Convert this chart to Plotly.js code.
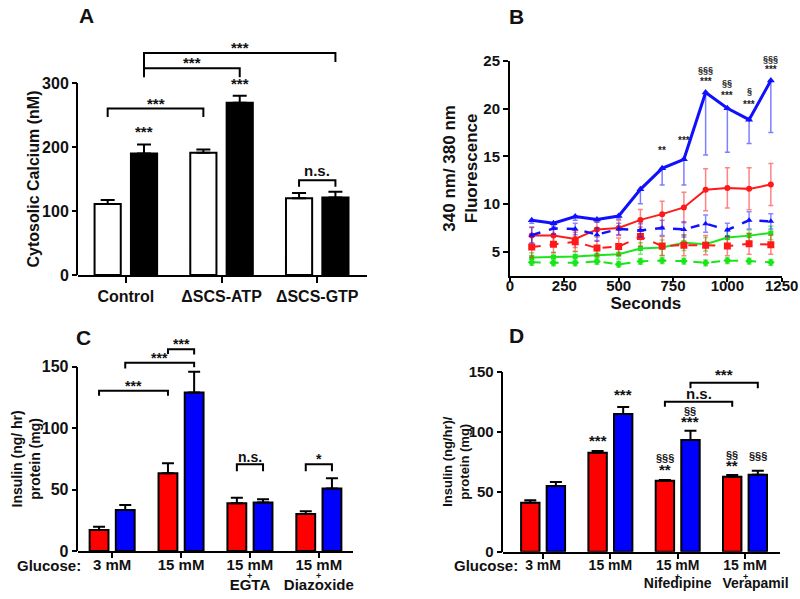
<!DOCTYPE html>
<html><head><meta charset="utf-8">
<script src="https://cdn.plot.ly/plotly-3.0.1.min.js"></script>
<style>html,body{margin:0;padding:0;background:#fff}#chart{width:800px;height:599px}</style>
</head><body><div id="chart"></div>
<script>
// ---------- Panel A ----------
const catsA = ['Control', 'ΔSCS-ATP', 'ΔSCS-GTP'];
const openA = [111, 191, 120];
const openErrA = [6, 5, 8];
const filledA = [190, 269, 121];
const filledErrA = [14, 11, 9];
const barStarsA = [{cat: 0, s: 1, text: '***'}, {cat: 1, s: 1, text: '***'}];
const bracketsA = [
  {c0: 0, s0: 0, c1: 1, s1: 0, top: 260, d0: 247, d1: 247, text: '***'},
  {c0: 0, s0: 1, c1: 1, s1: 1, top: 323, d0: 309, d1: 309, text: '***'},
  {c0: 0, s0: 1, c1: 2, s1: 1, top: 347, d0: 323, d1: 333, text: '***'},
  {c0: 2, s0: 0, c1: 2, s1: 1, top: 148, d0: 138, d1: 138, text: 'n.s.'}
];

// ---------- Panel B ----------
const secondsB = [100, 200, 300, 400, 500, 600, 700, 800, 900, 1000, 1100, 1200];
const blueSolidB = [8.3, 8.0, 8.7, 8.4, 8.75, 11.55, 13.75, 14.7, 21.7, 20.05, 18.85, 22.95];
const blueSolidErrB = [0.3, 0.3, 0.4, 0.3, 0.3, 1.5, 1.75, 2.7, 6.55, 4.6, 2.5, 5.45];
const blueDashB = [6.75, 7.45, 7.4, 6.8, 7.4, 7.25, 7.5, 7.35, 7.95, 7.3, 8.3, 8.2];
const blueDashErrB = [0.8, 0.6, 0.6, 0.7, 0.6, 0.7, 0.8, 0.8, 0.9, 0.7, 0.9, 0.8];
const redSolidB = [6.7, 6.7, 6.35, 7.35, 7.5, 8.35, 8.95, 9.65, 11.5, 11.7, 11.6, 12.05];
const redSolidErrB = [0.9, 0.8, 0.9, 0.8, 0.8, 1.1, 1.35, 1.6, 2.2, 2.1, 2.2, 2.2];
const redDashB = [5.5, 5.8, 6.05, 5.4, 5.55, 6.6, 5.6, 5.7, 5.7, 5.6, 5.85, 5.75];
const redDashErrB = [1.1, 0.9, 1.0, 0.8, 0.9, 1.0, 1.0, 1.1, 1.0, 1.0, 1.1, 1.0];
const greenSolidB = [4.4, 4.45, 4.5, 4.65, 4.75, 5.35, 5.45, 5.95, 5.8, 6.5, 6.7, 6.98];
const greenSolidErrB = [0.5, 0.5, 0.5, 0.5, 0.5, 0.6, 0.8, 0.8, 0.7, 0.7, 0.6, 0.7];
const greenDashB = [3.9, 3.85, 3.85, 4.0, 3.7, 4.0, 4.08, 4.03, 3.85, 4.08, 4.03, 3.9];
const greenDashErrB = [0.3, 0.3, 0.3, 0.3, 0.3, 0.3, 0.3, 0.3, 0.3, 0.3, 0.3, 0.3];
const sigB = [
  {x: 700, text: '**', dy: 10},
  {x: 800, text: '***', dy: 11},
  {x: 900, text: '***', dy: 3}, {x: 900, text: '§§§', dy: 15},
  {x: 1000, text: '***', dy: 5}, {x: 1000, text: '§§', dy: 18},
  {x: 1100, text: '***', dy: 8}, {x: 1100, text: '§', dy: 22},
  {x: 1200, text: '***', dy: 4}, {x: 1200, text: '§§§', dy: 15}
];

// ---------- Panel C ----------
const catsC = ['3 mM', '15 mM', '15 mM<br>EGTA', '15 mM<br>Diazoxide'];
const redC = [17.1, 63.3, 38.8, 30.1];
const redErrC = [2.7, 8.1, 4.6, 2.2];
const blueC = [33.4, 129, 39.6, 51];
const blueErrC = [4.1, 17, 2.5, 8.2];
const plusC = [2, 3];
const bracketsC = [
  {c0: 0, s0: 0, c1: 1, s1: 0, top: 130.5, d0: 126.5, d1: 126.5, text: '***'},
  {c0: 0, s0: 1, c1: 1, s1: 1, top: 153.4, d0: 148.7, d1: 149.6, text: '***'},
  {c0: 1, s0: 0, c1: 1, s1: 1, top: 164.3, d0: 160.4, d1: 160.0, text: '***'},
  {c0: 2, s0: 0, c1: 2, s1: 1, top: 70.6, d0: 65, d1: 65, text: 'n.s.'},
  {c0: 3, s0: 0, c1: 3, s1: 1, top: 70.6, d0: 65, d1: 65, text: '*'}
];

// ---------- Panel D ----------
const catsD = ['3 mM', '15 mM', '15 mM<br>Nifedipine', '15 mM<br>\u2003\u2002Verapamil'];
const redD = [40.8, 82.5, 59.2, 62.5];
const redErrD = [2.0, 1.4, 0.5, 1.4];
const blueD = [54.7, 114.7, 93, 64.2];
const blueErrD = [3.4, 5.9, 7.8, 3.3];
const plusD = [2, 3];
const barStarsD = [
  {cat: 1, s: 0, text: '***', dy: 0},
  {cat: 1, s: 1, text: '***', dy: 2},
  {cat: 2, s: 0, text: '**', dy: 0}, {cat: 2, s: 0, text: '§§§', dy: 14},
  {cat: 2, s: 1, text: '***', dy: -1}, {cat: 2, s: 1, text: '§§', dy: 12},
  {cat: 3, s: 0, text: '**', dy: -1}, {cat: 3, s: 0, text: '§§', dy: 12},
  {cat: 3, s: 1, text: '§§§', dy: 7}
];
const bracketsD = [
  {c0: 2, s0: 0, c1: 3, s1: 0, top: 125, d0: 120.8, d1: 120.8, text: 'n.s.'},
  {c0: 2, s0: 1, c1: 3, s1: 1, top: 140.8, d0: 136.2, d1: 136.2, text: '***'}
];

// ---------- build ----------
const FONT = 'Liberation Sans, Arial, Helvetica, sans-serif';
const BARGAP = 0.24, BARGROUPGAP = 0.28;
const HALF = (1 - BARGAP) / 4;
const xpos = (c, s) => c + (s === 0 ? -HALF : HALF);
const idx = a => a.map((_, i) => i);
const zeros = a => a.map(() => 0);

function barTrace(vals, errs, color, xa, ya, capW) {
  return {
    type: 'bar', x: idx(vals), y: vals, xaxis: xa, yaxis: ya,
    marker: {color: color, line: {color: '#000', width: 2}},
    error_y: {type: 'data', symmetric: false, array: errs, arrayminus: zeros(errs),
              color: '#000', thickness: 2, width: capW},
    showlegend: false, hoverinfo: 'skip'
  };
}
function lineTrace(y, err, errMinus, color, dash, symbol, size, width, errColor) {
  return {
    type: 'scatter', mode: 'lines+markers', x: secondsB, y: y, xaxis: 'x2', yaxis: 'y2',
    line: {color: color, width: width, dash: dash},
    marker: {color: color, symbol: symbol, size: size},
    error_y: {type: 'data', symmetric: false, array: err, arrayminus: errMinus,
              color: errColor, thickness: 1.5, width: 2.5},
    showlegend: false, hoverinfo: 'skip'
  };
}
// invisible anchor trace so that a y axis carrying only the axis line + title gets drawn
function axisHolder(xa, ya, vals) {
  return {type: 'scatter', mode: 'markers', x: [0], y: [vals[0]], xaxis: xa, yaxis: ya,
    marker: {opacity: 0, size: 1}, showlegend: false, hoverinfo: 'skip'};
}

const traces = [
  barTrace(openA, openErrA, '#ffffff', 'x', 'y', 7),
  barTrace(filledA, filledErrA, '#000000', 'x', 'y', 7),
  axisHolder('x', 'y5', openA),
  lineTrace(greenDashB, greenDashErrB, greenDashErrB, '#19e619', 'dash', 'diamond', 6, 2, 'rgba(25,230,25,0.6)'),
  lineTrace(greenSolidB, greenSolidErrB, greenSolidErrB, '#19e619', 'solid', 'square', 5, 2, 'rgba(25,230,25,0.6)'),
  lineTrace(redDashB, redDashErrB, redDashErrB, '#ff1a1a', 'dash', 'square', 7, 2, 'rgba(255,30,30,0.55)'),
  lineTrace(redSolidB, redSolidErrB, redSolidErrB, '#ff1a1a', 'solid', 'circle', 6, 2, 'rgba(255,30,30,0.55)'),
  lineTrace(blueDashB, blueDashErrB, blueDashErrB, '#1010ff', 'dash', 'triangle-up', 6, 2.5, 'rgba(20,20,255,0.5)'),
  lineTrace(blueSolidB, zeros(blueSolidErrB), blueSolidErrB, '#1010ff', 'solid', 'triangle-up', 7, 3, 'rgba(20,20,255,0.55)'),
  barTrace(redC, redErrC, '#ff0000', 'x3', 'y3', 6),
  barTrace(blueC, blueErrC, '#0000ff', 'x3', 'y3', 6),
  axisHolder('x3', 'y6', redC),
  barTrace(redD, redErrD, '#ff0000', 'x4', 'y4', 6),
  barTrace(blueD, blueErrD, '#0000ff', 'x4', 'y4', 6),
  axisHolder('x4', 'y7', redD)
];

const shapes = [];
const annotations = [];
function addBrackets(list, xa, ya, fontSize, starShift, textShift) {
  list.forEach(b => {
    const x0 = xpos(b.c0, b.s0), x1 = xpos(b.c1, b.s1);
    shapes.push({type: 'path', xref: xa, yref: ya,
      path: `M ${x0},${b.d0} L ${x0},${b.top} L ${x1},${b.top} L ${x1},${b.d1}`,
      line: {color: '#000', width: 2}});
    annotations.push({xref: xa, yref: ya, x: (x0 + x1) / 2, y: b.top, text: b.text,
      showarrow: false, yanchor: 'bottom', xanchor: 'center',
      yshift: b.text.indexOf('*') >= 0 ? starShift : textShift,
      font: {size: fontSize, color: '#111'}});
  });
}
function addBarLabels(list, vals, errs, xa, ya, fontSize) {
  list.forEach(l => {
    const v = vals[l.s][l.cat] + errs[l.s][l.cat];
    const isSec = l.text.indexOf('§') >= 0;
    annotations.push({xref: xa, yref: ya, x: xpos(l.cat, l.s), y: v, text: l.text,
      showarrow: false, yanchor: 'bottom', xanchor: 'center', yshift: l.dy,
      font: {size: isSec ? fontSize - 4 : fontSize, color: '#111'}});
  });
}
addBrackets(bracketsA, 'x', 'y', 15, -5, -1);
addBarLabels(barStarsA.map(l => Object.assign({dy: 2}, l)), [openA, filledA], [openErrA, filledErrA], 'x', 'y', 15);
addBrackets(bracketsC, 'x3', 'y3', 14, -5, -3);
addBrackets(bracketsD, 'x4', 'y4', 15, -2, -2);
addBarLabels(barStarsD, [redD, blueD], [redErrD, blueErrD], 'x4', 'y4', 15);

sigB.forEach(s => {
  const i = secondsB.indexOf(s.x);
  const isSec = s.text.indexOf('§') >= 0;
  annotations.push({xref: 'x2', yref: 'y2', x: s.x, y: blueSolidB[i], text: s.text,
    showarrow: false, yanchor: 'bottom', xanchor: 'center', yshift: s.dy,
    font: {size: isSec ? 9 : 10, color: '#222'}});
});

// Glucose labels and "+" signs under the x axes of C and D
[['x3', 'y3', -29, plusC], ['x4', 'y4', -23, plusD]].forEach(([xa, ya, xs, plus]) => {
  annotations.push({xref: xa, yref: ya, x: 0, y: 0, text: 'Glucose:', showarrow: false,
    xanchor: 'right', yanchor: 'middle', xshift: xs, yshift: -14, font: {size: 15, color: '#111'}});
  plus.forEach(c => annotations.push({xref: xa, yref: ya, x: c, y: 0, text: '+', showarrow: false,
    xanchor: 'center', yanchor: 'middle', yshift: -25, font: {size: 9, color: '#111'}}));
});

// panel letters
[['A', 0.1075, 1 - 15 / 599], ['B', 0.646, 1 - 16 / 599], ['C', 0.104, 1 - 337 / 599], ['D', 0.646, 1 - 335 / 599]]
  .forEach(([t, x, y]) => annotations.push({xref: 'paper', yref: 'paper', x: x, y: y, text: t,
    showarrow: false, xanchor: 'center', yanchor: 'middle', font: {size: 21, color: '#111'}}));

const baseX = {showline: true, linewidth: 2, linecolor: '#000', ticks: 'outside', ticklen: 6, tickwidth: 2,
  tickcolor: '#000', showgrid: false, zeroline: false, fixedrange: true, tickangle: 0};
const baseY = {ticks: 'outside', ticklen: 5, tickwidth: 2, tickcolor: '#000', showgrid: false,
  zeroline: false, fixedrange: true};
const lineOnly = {showline: true, linewidth: 2, linecolor: '#000', ticks: '', showticklabels: false,
  showgrid: false, zeroline: false, fixedrange: true};

const layout = {
  width: 800, height: 599, margin: {l: 0, r: 0, t: 0, b: 0},
  paper_bgcolor: '#fff', plot_bgcolor: 'rgba(0,0,0,0)',
  font: {family: FONT, size: 15, color: '#111', weight: 'bold'},
  barmode: 'group', bargap: BARGAP, bargroupgap: BARGROUPGAP,
  hovermode: false, showlegend: false,
  xaxis: Object.assign({}, baseX, {domain: [0.0975, 0.45875], range: [-0.5, 2.52], anchor: 'y',
    tickvals: idx(catsA), ticktext: catsA, tickfont: {size: 16}}),
  yaxis: Object.assign({}, baseY, {domain: [0.5409, 0.92554], range: [0, 360], anchor: 'x',
    tickvals: [0, 100, 200, 300], tickfont: {size: 16}, showline: false}),
  yaxis5: Object.assign({}, lineOnly, {domain: [0.5409, 0.86144], range: [0, 300], anchor: 'x',
    title: {text: 'Cytosolic Calcium (nM)', font: {size: 16}, standoff: 32}}),
  xaxis2: Object.assign({}, baseX, {domain: [0.6375, 0.97713], range: [0, 1250], anchor: 'y2',
    tickvals: [0, 250, 500, 750, 1000, 1250], ticklen: 4, ticklabelstandoff: -9, tickfont: {size: 15},
    title: {text: 'Seconds', font: {size: 17}, standoff: 0}}),
  yaxis2: Object.assign({}, baseY, {domain: [0.53973, 0.89816], range: [2.5, 25], anchor: 'x2',
    tickvals: [5, 10, 15, 20, 25], tickfont: {size: 15}, showline: true, linewidth: 2, linecolor: '#000',
    title: {text: '340 nm/ 380 nm<br>Fluorescence', font: {size: 17}}}),
  xaxis3: Object.assign({}, baseX, {domain: [0.097125, 0.441625], range: [-0.5, 3.5], anchor: 'y3',
    tickvals: idx(catsC), ticktext: catsC, ticklen: 5, ticklabelstandoff: -6, tickfont: {size: 15}}),
  yaxis3: Object.assign({}, baseY, {domain: [0.08013, 0.43272], range: [0, 172], anchor: 'x3',
    tickvals: [0, 50, 100, 150], tickfont: {size: 16}, showline: false}),
  yaxis6: Object.assign({}, lineOnly, {domain: [0.08013, 0.38765], range: [0, 150], anchor: 'x3',
    title: {text: 'Insulin (ng/ hr)<br>protein (mg)', font: {size: 14}, standoff: 32}}),
  xaxis4: Object.assign({}, baseX, {domain: [0.62838, 0.975], range: [-0.6, 3.52], anchor: 'y4',
    tickvals: idx(catsD), ticktext: catsD, ticklen: 5, ticklabelstandoff: -6, tickfont: {size: 14}}),
  yaxis4: Object.assign({}, baseY, {domain: [0.07896, 0.37947], range: [0, 150], anchor: 'x4',
    tickvals: [0, 50, 100, 150], tickfont: {size: 15}, showline: false}),
  yaxis7: Object.assign({}, lineOnly, {domain: [0.07896, 0.37947], range: [0, 150], anchor: 'x4',
    title: {text: 'Insulin (ng/hr)/<br>protein (mg)', font: {size: 13}, standoff: 28}}),
  shapes: shapes,
  annotations: annotations
};

Plotly.newPlot('chart', traces, layout, {staticPlot: true, displayModeBar: false});
</script></body></html>
